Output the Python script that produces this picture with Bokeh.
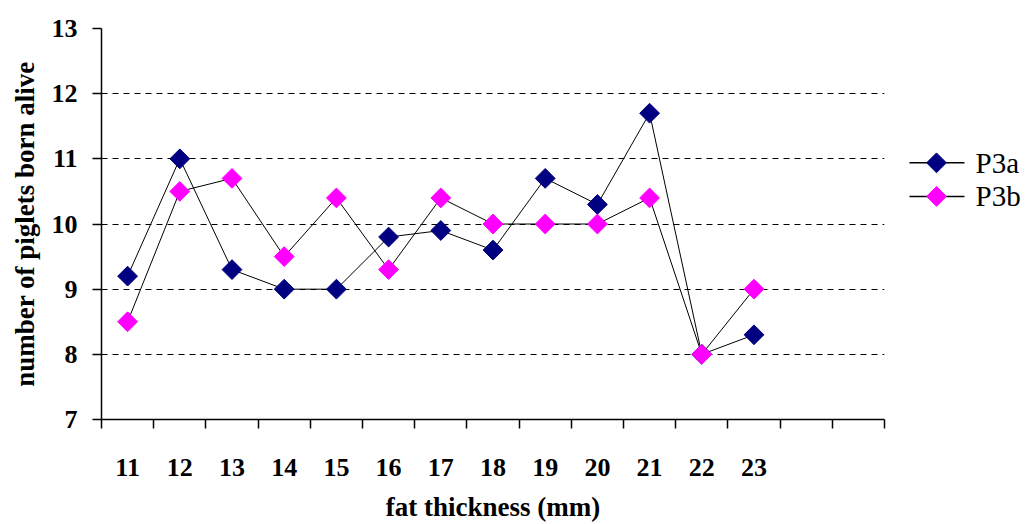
import numpy as np
from bokeh.plotting import figure
from bokeh.layouts import row
from bokeh.models import FixedTicker, Range1d
from bokeh.core.properties import value
from bokeh.embed import file_html
from bokeh.resources import INLINE

categories = [11, 12, 13, 14, 15, 16, 17, 18, 19, 20, 21, 22, 23]
p3a = [9.2, 11.0, 9.3, 9.0, 9.0, 9.8, 9.9, 9.6, 10.7, 10.3, 11.7, 8.0, 8.3]
p3b = [8.5, 10.5, 10.7, 9.5, 10.4, 9.3, 10.4, 10.0, 10.0, 10.0, 10.4, 8.0, 9.0]
series_names = ["P3a", "P3b"]
series_colors = ["#000080", "#FF00FF"]
y_ticks = [7, 8, 9, 10, 11, 12, 13]
grid_levels = [8, 9, 10, 11, 12]
n_slots = 15  # category slots on the axis (11..25)

slot_edges = [categories[0] - 0.5 + i for i in range(n_slots + 1)]

MAIN_W, LEG_W, H = 889, 141, 524

p = figure(width=MAIN_W, height=H, output_backend="svg", toolbar_location=None,
           x_range=Range1d(slot_edges[0], slot_edges[-1]),
           y_range=Range1d(y_ticks[0], y_ticks[-1]),
           min_border_left=101, min_border_right=5, min_border_top=28,
           min_border_bottom=105)
p.outline_line_color = None
p.background_fill_color = "white"
p.border_fill_color = "white"

# grids
p.xgrid.visible = False
p.ygrid.ticker = FixedTicker(ticks=grid_levels)
p.ygrid.grid_line_color = "black"
p.ygrid.grid_line_dash = "6 5"
p.ygrid.grid_line_width = 1

label_font = "Liberation Serif"

# x axis
xa = p.xaxis[0]
xa.ticker = FixedTicker(ticks=categories, minor_ticks=slot_edges)
xa.major_label_overrides = {c: str(c) for c in categories}
xa.major_tick_out = 0
xa.major_tick_in = 0
xa.minor_tick_out = 9
xa.minor_tick_in = 0
xa.minor_tick_line_color = "black"
xa.minor_tick_line_width = 1.5
xa.axis_line_color = "black"
xa.axis_line_width = 1.5
xa.major_label_text_font = label_font
xa.major_label_text_font_style = "bold"
xa.major_label_text_font_size = "26px"
xa.major_label_text_color = "black"
xa.major_label_standoff = 30
xa.axis_label = "fat thickness (mm)"
xa.axis_label_text_font = label_font
xa.axis_label_text_font_style = "bold"
xa.axis_label_text_font_size = "27px"
xa.axis_label_text_color = "black"
xa.axis_label_standoff = 13

# y axis
ya = p.yaxis[0]
ya.ticker = FixedTicker(ticks=y_ticks)
ya.major_tick_out = 9
ya.major_tick_in = 0
ya.minor_tick_out = 0
ya.minor_tick_in = 0
ya.major_tick_line_color = "black"
ya.major_tick_line_width = 1.5
ya.axis_line_color = "black"
ya.axis_line_width = 1.5
ya.major_label_text_font = label_font
ya.major_label_text_font_style = "bold"
ya.major_label_text_font_size = "26px"
ya.major_label_text_color = "black"
ya.major_label_standoff = 15
ya.axis_label = "number of piglets born alive"
ya.axis_label_text_font = label_font
ya.axis_label_text_font_style = "bold"
ya.axis_label_text_font_size = "27px"
ya.axis_label_text_color = "black"
ya.axis_label_standoff = 9

# series
for vals, col in zip([p3a, p3b], series_colors):
    p.line(categories, vals, line_color="black", line_width=1)
    p.scatter(categories, vals, marker="square", angle=np.pi / 4, size=14,
              fill_color=col, line_color=col)

# legend panel (separate small figure, screen-like coordinates)
leg = figure(width=LEG_W, height=H, output_backend="svg", toolbar_location=None,
             x_range=Range1d(0, LEG_W), y_range=Range1d(H, 0),
             x_axis_location=None, y_axis_location=None,
             min_border=0)
leg.grid.visible = False
leg.outline_line_color = None
leg.background_fill_color = "white"
leg.border_fill_color = "white"

row_y = [180, 225]
leg.segment(x0=[20, 20], y0=row_y, x1=[75, 75], y1=row_y,
            line_color="black", line_width=1.5)
leg.scatter([47, 47], row_y, marker="square", angle=np.pi / 4, size=14,
            fill_color=series_colors, line_color=series_colors)
leg.text([86, 86], row_y, text=series_names, text_baseline="middle",
         text_align="left", text_font=value("Liberation Serif"),
         text_font_size=value("29px"), text_color="black")

layout = row(p, leg, spacing=0)
open("out.html", "w").write(file_html(layout, INLINE))
